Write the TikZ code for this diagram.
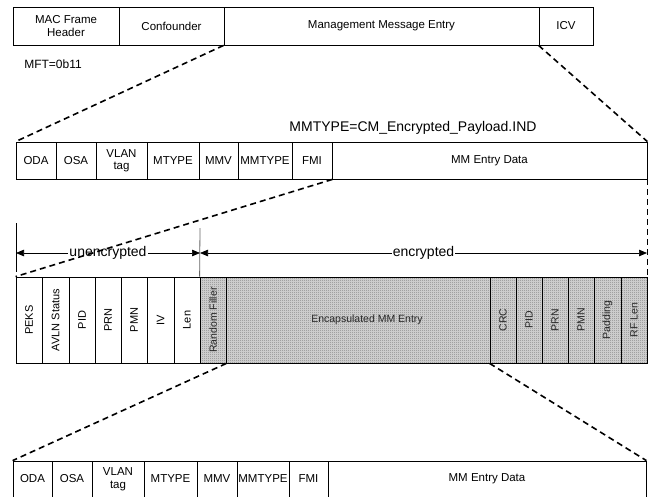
\documentclass[tikz,border=0pt]{standalone}
\usepackage{fontspec}
\usepackage{graphicx}
\setmainfont{Liberation Sans}
\usetikzlibrary{arrows.meta,patterns}
\pgfdeclarepatternformonly{finedots}{\pgfqpoint{0pt}{0pt}}{\pgfqpoint{2pt}{2pt}}{\pgfqpoint{2pt}{2pt}}{\pgfpathrectangle{\pgfqpoint{0pt}{0pt}}{\pgfqpoint{1pt}{1pt}}\pgfusepath{fill}}
\begin{document}
\begin{tikzpicture}[x=1pt,y=-1pt,
  cell/.style={draw, line width=0.8pt, inner sep=0pt, align=center,
    font=\fontsize{11.5}{12.5}\selectfont},
  vcell/.style={cell, font=\fontsize{11}{12}\selectfont},
  shaded/.style={vcell, font=\fontsize{10.5}{12}\selectfont, text=black!85,
    preaction={fill=black!20},
    preaction={pattern=finedots, pattern color=black!60}},
  zoomline/.style={line width=1.6pt, dash pattern=on 6pt off 4pt},
  dim/.style={line width=0.7pt, {Triangle[length=8pt,width=6.5pt]}-{Triangle[length=8pt,width=6.5pt]}},
  dimlabel/.style={fill=white, inner sep=1pt, font=\fontsize{14}{16}\selectfont},
  lbl/.style={inner sep=0pt}]
\useasboundingbox (0,0) rectangle (651,496);

% Row 1
\node[cell, minimum width=106, minimum height=38] (mac) at (66,26) {MAC Frame\\Header};
\node[cell, minimum width=105, minimum height=38] (conf) at (171.5,26) {Confounder};
\node[cell, minimum width=315, minimum height=38] (mme) at (381.5,26) {Management Message Entry};
\node[cell, minimum width=54, minimum height=38] (icv) at (566,26) {ICV};
\node[lbl, font=\fontsize{12}{14}\selectfont] (mft) at (53,64) {MFT=0b11};

% Row 2
\node[lbl, font=\fontsize{14}{16}\selectfont] (mmlabel) at (413,128) {MMTYPE=CM\_Encrypted\_Payload.IND};
\node[cell, minimum width=40, minimum height=37] (oda2) at (36,160.5) {ODA};
\node[cell, minimum width=40, minimum height=37] (osa2) at (76,160.5) {OSA};
\node[cell, minimum width=51, minimum height=37] (vlan2) at (121.5,160.5) {VLAN\\tag};
\node[cell, minimum width=52, minimum height=37] (mtype2) at (173,160.5) {MTYPE};
\node[cell, minimum width=39, minimum height=37] (mmv2) at (218.5,160.5) {MMV};
\node[cell, minimum width=54, minimum height=37] (mmtype2) at (265,160.5) {MMTYPE};
\node[cell, minimum width=40, minimum height=37] (fmi2) at (312,160.5) {FMI};
\node[cell, minimum width=315, minimum height=37] (data2) at (489.5,160.5) {MM Entry Data};

% Row 3
\node[vcell, minimum width=26, minimum height=86] (peks) at (29,320) {\rotatebox{90}{PEKS}};
\node[vcell, minimum width=27, minimum height=86] (avln) at (55.5,320) {\rotatebox{90}{AVLN Status}};
\node[vcell, minimum width=26, minimum height=86] (pid3) at (82,320) {\rotatebox{90}{PID}};
\node[vcell, minimum width=26, minimum height=86] (prn3) at (108,320) {\rotatebox{90}{PRN}};
\node[vcell, minimum width=26, minimum height=86] (pmn3) at (134,320) {\rotatebox{90}{PMN}};
\node[vcell, minimum width=27, minimum height=86] (iv3) at (160.5,320) {\rotatebox{90}{IV}};
\node[vcell, minimum width=26, minimum height=86] (len3) at (187,320) {\rotatebox{90}{Len}};
\node[shaded, minimum width=26, minimum height=86] (rfill) at (213,320) {\rotatebox{90}{Random Filler}};
\node[shaded, minimum width=264, minimum height=86] (encap) at (358,320) {\hspace*{18pt}Encapsulated MM Entry};
\node[shaded, minimum width=26, minimum height=86] (crc) at (503,320) {\rotatebox{90}{CRC}};
\node[shaded, minimum width=26, minimum height=86] (pidb) at (529,320) {\rotatebox{90}{PID}};
\node[shaded, minimum width=26, minimum height=86] (prnb) at (555,320) {\rotatebox{90}{PRN}};
\node[shaded, minimum width=26, minimum height=86] (pmnb) at (581,320) {\rotatebox{90}{PMN}};
\node[shaded, minimum width=27, minimum height=86] (pad) at (607.5,320) {\rotatebox{90}{Padding}};
\node[shaded, minimum width=26, minimum height=86] (rflen) at (634,320) {\rotatebox{90}{RF Len}};

% encrypted / unencrypted dimension lines
\coordinate (tL1) at (16,223);
\coordinate (tL2) at (16,272);
\coordinate (tM1) at (200,228);
\coordinate (aL) at (16,253);
\coordinate (aM) at (200,253);
\coordinate (aR) at (647,253);
\draw[line width=0.8pt] (tL1) -- (tL2);
\draw[line width=0.8pt, black!60] (tM1) -- (rfill.north west);
\draw[dim] (aL) -- node[dimlabel] (unenc) {unencrypted} (aM);
\draw[dim] (aM) -- node[dimlabel] (enc) {encrypted} (aR);

% Row 4
\node[cell, minimum width=39, minimum height=36] (oda4) at (32.5,479) {ODA};
\node[cell, minimum width=40, minimum height=36] (osa4) at (72,479) {OSA};
\node[cell, minimum width=52, minimum height=36] (vlan4) at (118,479) {VLAN\\tag};
\node[cell, minimum width=53, minimum height=36] (mtype4) at (170.5,479) {MTYPE};
\node[cell, minimum width=40, minimum height=36] (mmv4) at (217,479) {MMV};
\node[cell, minimum width=52, minimum height=36] (mmtype4) at (263,479) {MMTYPE};
\node[cell, minimum width=39, minimum height=36] (fmi4) at (308.5,479) {FMI};
\node[cell, minimum width=318, minimum height=36] (data4) at (487,479) {MM Entry Data};

% zoom connectors
\draw[zoomline] (mme.south west) -- (oda2.north west);
\draw[zoomline] (icv.south west) -- (data2.north east);
\draw[zoomline] (fmi2.south east) -- (peks.north west);
\draw[zoomline] (data2.south east) -- (rflen.north east);
\draw[zoomline] (rfill.south east) -- (oda4.north west);
\draw[zoomline] (crc.south west) -- (data4.north east);
\end{tikzpicture}
\end{document}
